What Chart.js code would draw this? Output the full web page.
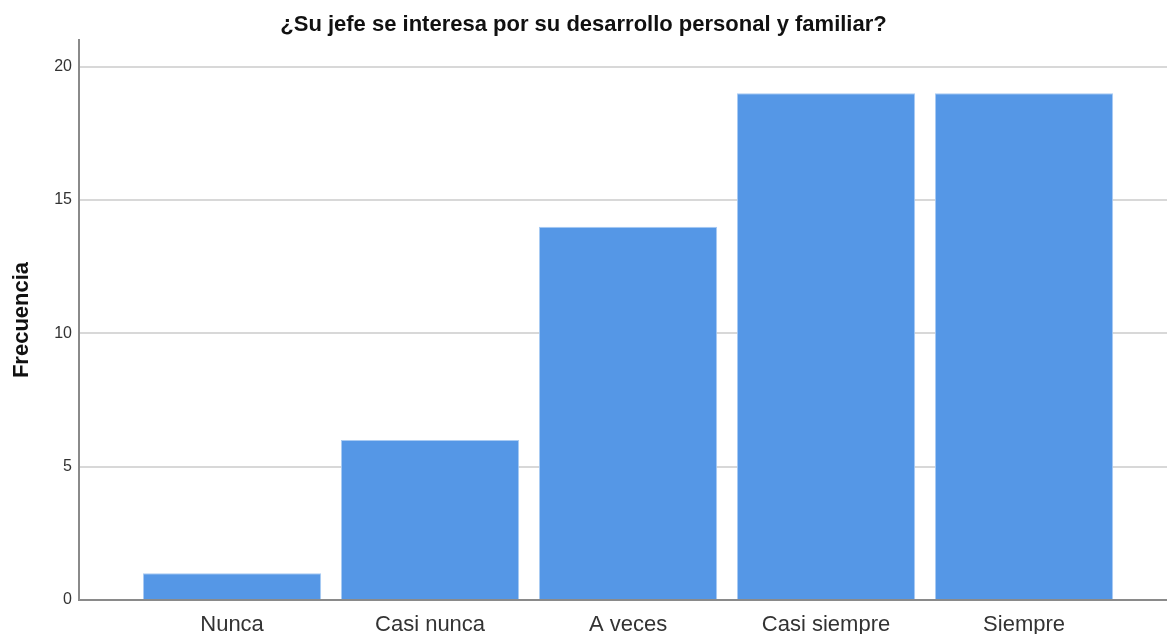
<!DOCTYPE html>
<html>
<head>
<meta charset="utf-8">
<script src="https://cdn.jsdelivr.net/npm/chart.js@4"></script>
<style>
  html, body { margin: 0; padding: 0; background: #fff; }
  #wrap { width: 1167px; height: 634px; }
</style>
</head>
<body>
<div id="wrap"><canvas id="myBarChart" width="1167" height="634"></canvas></div>
<script>
const categories = ['Nunca', 'Casi nunca', 'A veces', 'Casi siempre', 'Siempre'];
const frecuencias = [1, 6, 14, 19, 19];
const yTicks = [0, 5, 10, 15, 20];

window.onload = function () {
    const ctx = document.getElementById('myBarChart');
    const points = categories.map((c, i) => ({ x: i, y: frecuencias[i] }));

    new Chart(ctx, {
        type: 'bar',
        data: {
            datasets: [{
                label: 'Frecuencia',
                data: points,
                backgroundColor: '#5597e6',
                borderColor: '#a9cbf3',
                borderWidth: 1,
                barPercentage: 0.9,
                categoryPercentage: 1,
            }],
        },
        options: {
            responsive: false,
            animation: false,
            layout: { padding: 0 },
            plugins: {
                legend: { display: false },
                tooltip: { enabled: false },
                title: {
                    display: true,
                    text: '¿Su jefe se interesa por su desarrollo personal y familiar?',
                    color: '#111',
                    font: { family: 'Liberation Sans', size: 22, weight: 'bold', lineHeight: 1.2 },
                    padding: { top: 12, bottom: 1.6 },
                },
            },
            scales: {
                x: {
                    type: 'linear',
                    offset: false,
                    min: -0.773,
                    max: 4.722,
                    afterFit: (scale) => { scale.height = 34; },
                    grid: { display: false },
                    border: { display: true, color: '#8a8a8a', width: 2 },
                    ticks: {
                        stepSize: 1,
                        includeBounds: false,
                        autoSkip: false,
                        maxRotation: 0,
                        padding: 4,
                        color: '#333',
                        font: { family: 'Liberation Sans', size: 22 },
                        callback: (v) => categories[v] ?? '',
                    },
                },
                y: {
                    min: 0,
                    max: 21,
                    afterFit: (scale) => { scale.width = 79; },
                    grid: { color: '#d8d8d8', lineWidth: 2, drawTicks: false },
                    border: { display: true, color: '#8a8a8a', width: 2 },
                    title: {
                        display: true,
                        text: 'Frecuencia',
                        color: '#111',
                        font: { family: 'Liberation Sans', size: 22, weight: 'bold', lineHeight: 1.2 },
                        padding: { top: 9, bottom: 0 },
                    },
                    ticks: {
                        stepSize: 5,
                        includeBounds: false,
                        padding: 7,
                        color: '#333',
                        font: { family: 'Liberation Sans', size: 16 },
                        callback: (v) => yTicks.includes(v) ? v : '',
                    },
                },
            },
        },
    });
};
</script>
</body>
</html>
